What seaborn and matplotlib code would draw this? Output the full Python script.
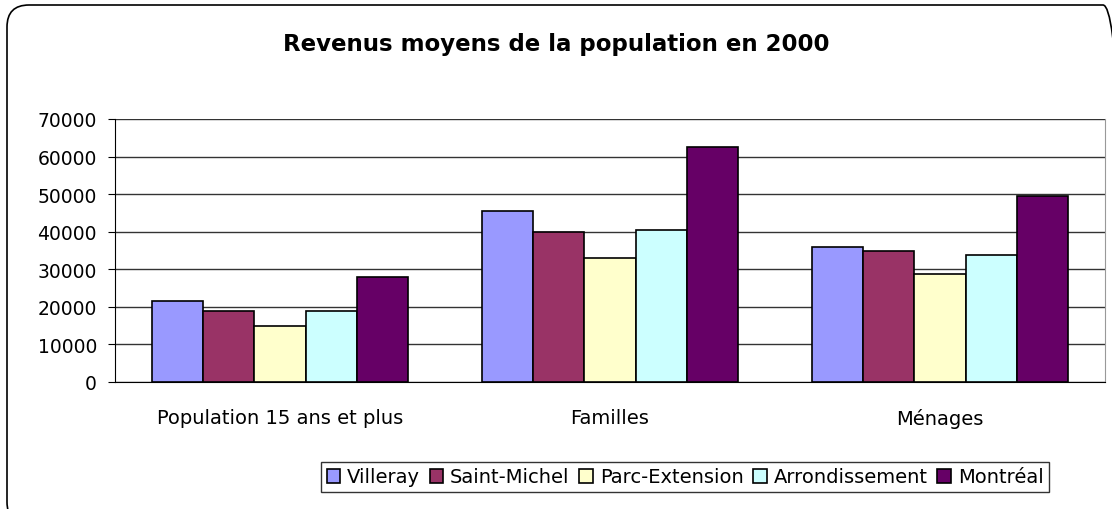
import pandas as pd
import matplotlib.pyplot as plt
import seaborn as sns
from matplotlib.patches import FancyBboxPatch
from matplotlib.transforms import IdentityTransform

# Data
categories = ['Population 15 ans et plus', 'Familles', 'Ménages']
zones = ['Villeray', 'Saint-Michel', 'Parc-Extension', 'Arrondissement', 'Montréal']
villeray = [21500, 45500, 35800]
saint_michel = [19000, 40000, 35000]
parc_extension = [15000, 33000, 28800]
arrondissement = [19000, 40500, 33900]
montreal = [28000, 62600, 49400]
colors = ['#9999FF', '#993366', '#FFFFCC', '#CCFFFF', '#660066']

# Long-format table for seaborn
values = [villeray, saint_michel, parc_extension, arrondissement, montreal]
rows = []
for zone, vals in zip(zones, values):
    for cat, v in zip(categories, vals):
        rows.append({'categorie': cat, 'zone': zone, 'revenu': v})
df = pd.DataFrame(rows)

sns.set_style('white')
plt.rcParams['font.family'] = ['DejaVu Sans']
plt.rcParams['text.color'] = 'black'
plt.rcParams['xtick.color'] = 'black'
plt.rcParams['ytick.color'] = 'black'

fig = plt.figure(figsize=(11.12, 5.1), dpi=100)
ax = fig.add_axes([115 / 1112, 1 - 383 / 510, 990 / 1112, 263 / 510])

sns.barplot(data=df, x='categorie', y='revenu', hue='zone', order=categories,
            hue_order=zones, palette=colors, width=0.776, gap=0,
            edgecolor='black', linewidth=1.2, saturation=1, ax=ax, zorder=3)

# Axis settings
ax.set_ylim(0, 70000)
ax.set_xlim(-0.5, 2.5)
ax.set_yticks(range(0, 70001, 10000))
ax.yaxis.grid(True, color='#333333', linewidth=1)
ax.set_axisbelow(True)
ax.set_xlabel('')
ax.set_ylabel('')
ax.tick_params(axis='y', labelsize=13.5, length=5, direction='out', left=True, pad=8)
ax.tick_params(axis='x', labelsize=14, length=0, pad=19)
ax.spines['top'].set_visible(False)
ax.spines['left'].set_color('black')
ax.spines['bottom'].set_color('black')
ax.spines['right'].set_color('#999999')

# Title
fig.text(0.5, 1 - 45 / 510, 'Revenus moyens de la population en 2000',
         ha='center', va='center', fontsize=16.5, fontweight='bold')

# Legend
ax.legend_.remove()
handles, labels = ax.get_legend_handles_labels()
leg = fig.legend(handles, labels, loc='center', bbox_to_anchor=(685 / 1112, 1 - 478 / 510),
                 ncol=5, frameon=True, fancybox=False, fontsize=14,
                 handlelength=0.7, handleheight=0.7, handletextpad=0.35,
                 columnspacing=0.5, borderpad=0.3, borderaxespad=0)
leg.get_frame().set_edgecolor('black')
leg.get_frame().set_linewidth(1)

# Rounded outer frame (pixel coordinates, runs off the right and bottom edges)
frame = FancyBboxPatch((7, -15), 1118, 519,
                       boxstyle='round,pad=0,rounding_size=22',
                       transform=IdentityTransform(), fill=False,
                       edgecolor='black', linewidth=1.2)
fig.patches.append(frame)

fig.savefig('out.png', dpi=100)
